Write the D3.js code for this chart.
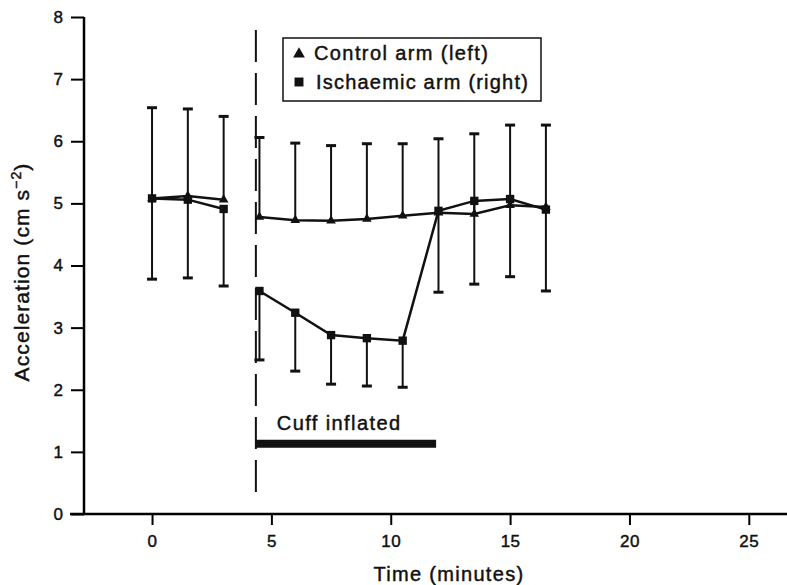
<!DOCTYPE html>
<html lang="en">
<head>
<meta charset="utf-8">
<title>Acceleration</title>
<script src="https://cdn.jsdelivr.net/npm/d3@7"></script>
<style>
  body { margin: 0; background: #fff; }
  text { font-family: "Liberation Sans", Arial, sans-serif; fill: #111; stroke: #111; stroke-width: 0.45px; }
</style>
</head>
<body>
<script>
// time points (minutes)
var times = [0, 1.5, 3, 4.5, 6, 7.5, 9, 10.5, 12, 13.5, 15, 16.5];
// control arm (left) - mean and SD (bars drawn upward)
var controlMean = [5.08, 5.12, 5.06, 4.78, 4.73, 4.72, 4.75, 4.80, 4.85, 4.83, 4.97, 4.94];
var controlSD   = [1.46, 1.40, 1.34, 1.28, 1.24, 1.21, 1.21, 1.16, 1.19, 1.29, 1.29, 1.32];
// ischaemic arm (right) - mean and SD (bars drawn downward)
var ischMean = [5.08, 5.06, 4.91, 3.59, 3.24, 2.88, 2.83, 2.79, 4.88, 5.04, 5.07, 4.90];
var ischSD   = [1.30, 1.26, 1.24, 1.11, 0.94, 0.79, 0.77, 0.75, 1.31, 1.34, 1.25, 1.31];
// line segments as index ranges (gap where cuff goes on)
var segments = [[0, 3], [3, 12]];
var xTicks = [0, 5, 10, 15, 20, 25];
var yTicks = [0, 1, 2, 3, 4, 5, 6, 7, 8];
var cuffStart = 4.35, cuffEnd = 11.9, cuffLevel = 1.13;

var width = 787, height = 585;
var svg = d3.select("body").append("svg")
            .attr("width", width)
            .attr("height", height);

var x = d3.scaleLinear().domain([-2.85, 26.6]).range([84, 787]);
var y = d3.scaleLinear().domain([0, 8]).range([514, 17]);

// axes
var xAxis = svg.append("g")
    .attr("transform", "translate(0," + y(0) + ")")
    .call(d3.axisBottom(x).tickValues(xTicks).tickSize(11).tickPadding(10).tickFormat(d3.format("d")));
xAxis.select(".domain").attr("d", "M70,0H787").attr("stroke-width", 2.5);
xAxis.selectAll(".tick line").attr("stroke-width", 2);
xAxis.selectAll(".tick text").attr("font-size", 17).attr("letter-spacing", 0.5);

var yAxis = svg.append("g")
    .attr("transform", "translate(" + x(-2.85) + ",0)")
    .call(d3.axisLeft(y).tickValues(yTicks).tickSize(13).tickPadding(8));
yAxis.select(".domain").attr("d", "M0," + y(8) + "V" + y(0)).attr("stroke-width", 2.5);
yAxis.selectAll(".tick line").attr("stroke-width", 2);
yAxis.selectAll(".tick text").attr("font-size", 17);

// labels
svg.append("text")
   .attr("x", 449).attr("y", 581)
   .attr("text-anchor", "middle")
   .attr("font-size", 20).attr("letter-spacing", 1.3)
   .text("Time (minutes)");

var ylab = svg.append("text")
   .attr("transform", "translate(29,272) rotate(-90)")
   .attr("text-anchor", "middle")
   .attr("font-size", 21).attr("letter-spacing", 1.1);
ylab.append("tspan").text("Acceleration (cm s");
ylab.append("tspan").attr("dy", -8).attr("font-size", 14).text("\u22122");
ylab.append("tspan").attr("dy", 8).text(")");

// dashed line at cuff inflation
svg.append("line")
   .attr("x1", x(cuffStart)).attr("x2", x(cuffStart))
   .attr("y1", 30).attr("y2", 498)
   .attr("stroke", "#111").attr("stroke-width", 2)
   .attr("stroke-dasharray", "32,11");

// cuff bar
svg.append("line")
   .attr("x1", x(cuffStart)).attr("x2", x(cuffEnd))
   .attr("y1", y(cuffLevel)).attr("y2", y(cuffLevel))
   .attr("stroke", "#111").attr("stroke-width", 8);
svg.append("text")
   .attr("x", x(cuffStart) + 21).attr("y", 430)
   .attr("font-size", 20).attr("letter-spacing", 1.4)
   .text("Cuff inflated");

// error bars
var idx = d3.range(times.length);
var capW = 5;
function errorBars(mean, sd, dir) {
  var g = svg.append("g").attr("stroke", "#111").attr("stroke-width", 2);
  g.selectAll("line.bar").data(idx).enter().append("line")
    .attr("x1", function(i){ return x(times[i]); })
    .attr("x2", function(i){ return x(times[i]); })
    .attr("y1", function(i){ return y(mean[i]); })
    .attr("y2", function(i){ return y(mean[i] + dir * sd[i]); });
  g.selectAll("line.cap").data(idx).enter().append("line")
    .attr("stroke-width", 3)
    .attr("x1", function(i){ return x(times[i]) - capW; })
    .attr("x2", function(i){ return x(times[i]) + capW; })
    .attr("y1", function(i){ return y(mean[i] + dir * sd[i]); })
    .attr("y2", function(i){ return y(mean[i] + dir * sd[i]); });
}
errorBars(controlMean, controlSD, 1);
errorBars(ischMean, ischSD, -1);

// lines
var line = d3.line()
   .x(function(i){ return x(times[i]); });
function drawLines(mean) {
  line.y(function(i){ return y(mean[i]); });
  segments.forEach(function(s){
    svg.append("path")
       .attr("d", line(d3.range(s[0], s[1])))
       .attr("fill", "none").attr("stroke", "#111").attr("stroke-width", 2.5);
  });
}
drawLines(controlMean);
drawLines(ischMean);

// markers
var tri = d3.symbol().type(d3.symbolTriangle).size(40);
var sq = d3.symbol().type(d3.symbolSquare).size(70);
svg.selectAll("path.tri").data(idx).enter().append("path")
   .attr("class", "tri")
   .attr("d", tri)
   .attr("transform", function(i){ return "translate(" + x(times[i]) + "," + y(controlMean[i]) + ")"; })
   .attr("fill", "#111");
svg.selectAll("path.sq").data(idx).enter().append("path")
   .attr("class", "sq")
   .attr("d", sq)
   .attr("transform", function(i){ return "translate(" + x(times[i]) + "," + y(ischMean[i]) + ")"; })
   .attr("fill", "#111");

// legend
var legend = svg.append("g");
legend.append("rect")
   .attr("x", 283).attr("y", 38).attr("width", 258).attr("height", 63)
   .attr("fill", "#fff").attr("stroke", "#111").attr("stroke-width", 1.5);
legend.append("path").attr("d", d3.symbol().type(d3.symbolTriangle).size(60))
   .attr("transform", "translate(299,54)").attr("fill", "#111");
legend.append("path").attr("d", d3.symbol().type(d3.symbolSquare).size(80))
   .attr("transform", "translate(299,82)").attr("fill", "#111");
legend.append("text").attr("x", 314).attr("y", 60)
   .attr("font-size", 20).attr("letter-spacing", 1.4)
   .text("Control arm (left)");
legend.append("text").attr("x", 316).attr("y", 89)
   .attr("font-size", 20).attr("letter-spacing", 1.2)
   .text("Ischaemic arm (right)");
</script>
</body>
</html>
